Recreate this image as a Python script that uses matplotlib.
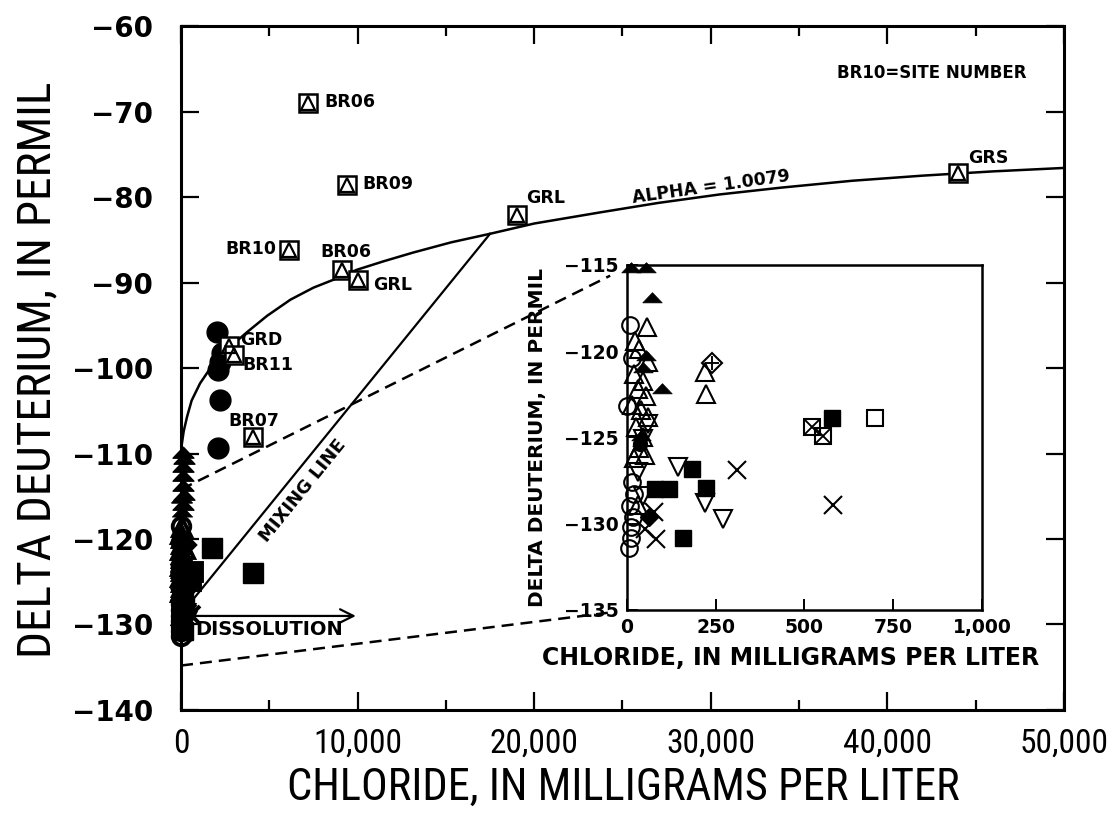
import numpy as np
import matplotlib
matplotlib.use("Agg")
import matplotlib.pyplot as plt
from matplotlib.path import Path
from matplotlib.ticker import FuncFormatter, MultipleLocator

NARROW = ["Roboto Condensed", "Liberation Sans Narrow", "Open Sans Condensed",
          "DejaVu Sans"]

# --- main panel: labelled sites (boxed triangles) ---
site_x = [7200, 9400, 19000, 44000, 6100, 9100, 10000, 2700, 3000, 4100]
site_y = [-69.0, -78.6, -82.1, -77.2, -86.2, -88.5, -89.7, -97.4, -98.5, -108.1]
site_lab = ["BR06", "BR09", "GRL", "GRS", "BR10", "BR06", "GRL", "GRD", "BR11", "BR07"]

# --- main panel: other symbols outside the inset range ---
mcirc_x = [2040, 2320, 2200, 2100, 2200, 2100]
mcirc_y = [-95.8, -98.3, -99.3, -100.2, -103.7, -109.4]
msq_x = [1750, 4050]
msq_y = [-121.1, -124.0]
mtri_x = [120, 150, 110, 130, 120, 140, 110]
mtri_y = [-109.9, -110.7, -111.6, -112.6, -113.8, -114.9, -116.0]

# evaporation curve, alpha = 1.0079
curve_x = [0, 150, 340, 600, 1075, 1600, 2200, 2900, 3800, 4870, 6200, 7500,
           8600, 9970, 11500, 13140, 15300, 17500, 20000, 23730, 27000, 30500,
           34000, 38000, 42000, 46000, 50000]
curve_y = [-109.5, -107.4, -105.7, -103.8, -101.8, -100.2, -98.7, -97.3, -95.7,
           -93.9, -92.0, -90.6, -89.7, -88.5, -87.5, -86.5, -85.3, -84.3, -83.1,
           -81.8, -80.7, -79.7, -78.9, -78.1, -77.5, -77.0, -76.6]
mix_x = [0, 17500]
mix_y = [-128.8, -84.3]
dash1_x = [0, 24300]
dash1_y = [-114.2, -89.2]
dash2_x = [0, 24300]
dash2_y = [-134.8, -128.6]
arrow_x = [0, 9900]
arrow_y = [-129.0, -129.0]

# --- inset data (chloride < 1,000 mg/L) ---
ocirc_x = [8, 14, 0, 14, 20, 8, 16, 10, 12, 5]
ocirc_y = [-118.5, -120.4, -123.2, -127.6, -128.3, -129.0, -129.6, -130.2, -130.8, -131.4]
otri_x = [56, 22, 35, 60, 20, 45, 30, 55, 15, 40, 60, 25, 45, 220, 222, 30, 50,
          35, 20]
otri_y = [-118.6, -119.4, -119.9, -120.6, -121.3, -121.7, -122.2, -122.6, -123.1,
          -123.4, -123.8, -124.4, -125.0, -121.2, -122.5, -128.9, -126.0,
          -125.6, -126.2]
ftri_x = [10, 55, 70, 55, 98, 40, 45]
ftri_y = [-115.2, -115.2, -116.9, -120.3, -122.2, -124.9, -121.0]
oitri_x = [60, 45, 144, 220, 270, 45, 30]
oitri_y = [-124.2, -125.1, -126.7, -128.8, -129.7, -128.4, -127.0]
fsq_x = [577, 78, 118, 182, 222, 158]
fsq_y = [-123.9, -128.0, -128.0, -126.8, -127.9, -130.8]
osq_x = [699]
osq_y = [-123.9]
bx_x = [521, 551]
bx_y = [-124.4, -124.9]
xx_x = [310, 580, 75, 82, 50]
xx_y = [-126.9, -128.9, -129.3, -130.9, -130.3]
dcr_x = [239]
dcr_y = [-120.7]
fdia_x = [62]
fdia_y = [-129.6]
fcirc_x = [38]
fcirc_y = [-125.4]

inset_xticks = [0, 250, 500, 750, 1000]
inset_xlabels = ["0", "250", "500", "750", "1,000"]

# flattened solid triangle used in the original
FLAT_TRI = Path([(-1, -0.45), (1, -0.45), (0, 0.6), (-1, -0.45)], [1, 2, 2, 79])


def draw_symbols(a, s, w):
    """All symbol groups; s scales marker size, w the edge width."""
    k = dict(ls="none", color="k", clip_on=False, zorder=5)
    a.plot(ocirc_x, ocirc_y, marker="o", ms=12*s, mfc="none", mew=w, **k)
    a.plot(otri_x, otri_y, marker="^", ms=13*s, mfc="none", mew=w, **k)
    a.plot(ftri_x, ftri_y, marker=FLAT_TRI, ms=14*s, mfc="k", mew=0.5, **k)
    a.plot(oitri_x, oitri_y, marker="v", ms=13*s, mfc="none", mew=w, **k)
    a.plot(fsq_x, fsq_y, marker="s", ms=12*s, mfc="k", mew=1, **k)
    a.plot(osq_x, osq_y, marker="s", ms=12*s, mfc="none", mew=w, **k)
    a.plot(bx_x, bx_y, marker="s", ms=12*s, mfc="none", mew=w, **k)
    a.plot(bx_x, bx_y, marker="x", ms=10*s, mew=w*0.9, **k)
    a.plot(xx_x, xx_y, marker="x", ms=13*s, mew=w, **k)
    a.plot(dcr_x, dcr_y, marker="D", ms=10*s, mfc="none", mew=w, **k)
    a.plot(dcr_x, dcr_y, marker="+", ms=10*s, mew=w*0.9, **k)
    a.plot(fdia_x, fdia_y, marker="D", ms=9*s, mfc="k", mew=1, **k)
    a.plot(fcirc_x, fcirc_y, marker="o", ms=10*s, mfc="k", mew=1, **k)


fig = plt.figure(figsize=(11.19, 8.13), dpi=100)
ax = fig.add_axes([0.1618, 0.1267, 0.7890, 0.8413])
ax.set_xlim(0, 50000)
ax.set_ylim(-140, -60)

ax.plot(curve_x, curve_y, "k-", lw=1.8, zorder=3)
ax.plot(mix_x, mix_y, "k-", lw=1.6, zorder=3)
ax.plot(dash1_x, dash1_y, "k", ls=(0, (4.8, 2.8)), lw=1.8, zorder=3)
ax.plot(dash2_x, dash2_y, "k", ls=(0, (4.8, 2.8)), lw=1.8, zorder=3)
ax.annotate("", xy=(arrow_x[1], arrow_y[1]), xytext=(arrow_x[0], arrow_y[0]),
            arrowprops=dict(arrowstyle="->", lw=1.6, color="k",
                            mutation_scale=24, shrinkA=0, shrinkB=0))

draw_symbols(ax, 1.05, 2.8)
ax.plot(mcirc_x, mcirc_y, "ko", ms=15, ls="none", zorder=5)
ax.plot(msq_x, msq_y, "ks", ms=14, ls="none", zorder=5)
ax.plot(mtri_x, mtri_y, ls="none", marker=FLAT_TRI, ms=15, color="k",
        clip_on=False, zorder=5)
ax.plot(site_x, site_y, ls="none", marker="s", ms=13, mfc="white", mec="k",
        mew=1.8, zorder=6)
ax.plot(site_x, site_y, ls="none", marker="^", ms=10, mfc="none", mec="k",
        mew=1.6, zorder=7)

lab_off = [(12, 1, "left"), (11, 1, "left"), (7, 12, "left"), (7, 11, "left"),
           (-9, 1, "right"), (3, 13, "center"), (11, -4, "left"),
           (8, 4, "left"), (6, -7, "left"), (0, 12, "center")]
for x, y, t, (dx, dy, ha) in zip(site_x, site_y, site_lab, lab_off):
    ax.annotate(t, (x, y), xytext=(dx, dy), textcoords="offset points",
                ha=ha, va="center", fontsize=12.5, fontweight="bold", zorder=8)

ax.text(42500, -65.5, "BR10=SITE NUMBER", ha="center", va="center",
        fontsize=12, fontweight="bold")
ax.text(30000, -78.8, "ALPHA = 1.0079", ha="center", va="center",
        fontsize=12.5, fontweight="bold", rotation=8)
ax.text(6900, -114.3, "MIXING LINE", ha="center", va="center",
        fontsize=13, fontweight="bold", rotation=51)
ax.text(800, -130.6, "DISSOLUTION", ha="left", va="center", fontsize=14,
        fontweight="bold")

ax.xaxis.set_major_locator(MultipleLocator(10000))
ax.xaxis.set_minor_locator(MultipleLocator(5000))
ax.yaxis.set_major_locator(MultipleLocator(10))
ax.xaxis.set_major_formatter(FuncFormatter(lambda v, p: f"{int(v):,}"))
ax.tick_params(which="both", direction="in", top=True, right=True, width=1.6)
ax.tick_params(which="major", length=13)
ax.tick_params(which="minor", length=7)
ax.tick_params(axis="x", pad=13, labelsize=24)
ax.tick_params(axis="y", pad=20, labelsize=20)
for lb in ax.get_xticklabels():
    lb.set_family(NARROW)
    lb.set_fontstretch("condensed")
for lb in ax.get_yticklabels():
    lb.set_fontweight("bold")
for sp in ax.spines.values():
    sp.set_linewidth(2.2)

fig.text(0.5566, 0.031, "CHLORIDE, IN MILLIGRAMS PER LITER", ha="center",
         va="center", fontsize=32, family=NARROW, fontstretch="condensed")
fig.text(0.033, 0.545, "DELTA DEUTERIUM, IN PERMIL", ha="center", va="center",
         rotation=90, fontsize=34, family=NARROW, fontstretch="condensed")

# --- inset ---
ins = fig.add_axes([0.5603, 0.2497, 0.3172, 0.4244])
ins.set_xlim(0, 1000)
ins.set_ylim(-135, -115)
draw_symbols(ins, 1.0, 1.5)
ins.set_xticks(inset_xticks)
ins.set_xticklabels(inset_xlabels)
ins.yaxis.set_major_locator(MultipleLocator(5))
ins.tick_params(direction="in", length=8, width=1.4, labelsize=13.5, pad=6)
for lb in ins.get_xticklabels() + ins.get_yticklabels():
    lb.set_fontweight("bold")
for sp in ins.spines.values():
    sp.set_linewidth(1.8)
ins.set_xlabel("CHLORIDE, IN MILLIGRAMS PER LITER", fontsize=17,
               fontweight="bold")
ins.xaxis.set_label_coords(0.46, -0.105)
ins.set_ylabel("DELTA DEUTERIUM, IN PERMIL", fontsize=14.5,
               fontweight="bold", labelpad=12)

fig.savefig("out.png", dpi=100)
